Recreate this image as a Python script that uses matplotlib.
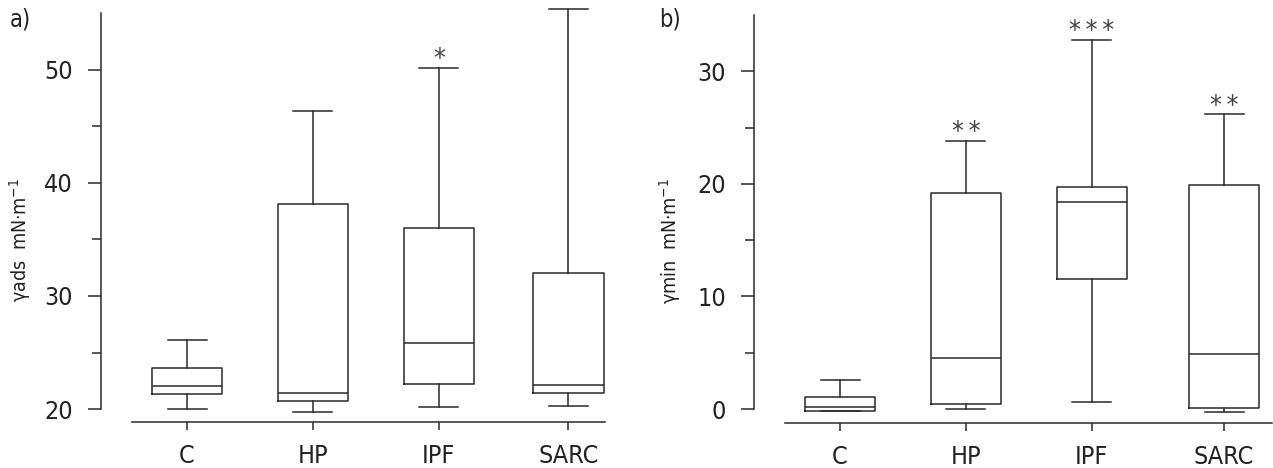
import matplotlib.pyplot as plt
import numpy as np

plt.rcParams['font.family'] = ['DejaVu Sans']
plt.rcParams['font.stretch'] = 'condensed'
plt.rcParams['mathtext.fontset'] = 'custom'
plt.rcParams['mathtext.rm'] = 'DejaVu Sans:stretch=condensed'

groups = ['C', 'HP', 'IPF', 'SARC']

# panel a) gamma ads
ads_whislo = [20.0, 19.7, 20.2, 20.3]
ads_q1 = [21.3, 20.7, 22.2, 21.4]
ads_med = [22.0, 21.4, 25.8, 22.1]
ads_q3 = [23.65, 38.1, 36.0, 32.0]
ads_whishi = [26.1, 46.4, 50.2, 55.4]
ads_stars = ['', '', '*', '']

# panel b) gamma min
min_whislo = [-0.15, -0.03, 0.6, -0.3]
min_q1 = [-0.15, 0.44, 11.56, 0.09]
min_med = [0.15, 4.5, 18.4, 4.9]
min_q3 = [1.04, 19.17, 19.7, 19.93]
min_whishi = [2.6, 23.85, 32.8, 26.2]
min_stars = ['', '**', '***', '**']

W, H = 1273, 468
lc = '#2a2a2a'


def panel(ax, pos, lo, q1, med, q3, hi, stars, ylim, bounds, ticks, minors, ylabel, tag, xlim):
    stats = []
    for i in range(len(groups)):
        stats.append(dict(label=groups[i], whislo=lo[i], q1=q1[i], med=med[i], q3=q3[i], whishi=hi[i], fliers=[]))
    lp = dict(color=lc, linewidth=1.1)
    ax.bxp(stats, positions=pos, widths=0.56, capwidths=0.31, showfliers=False,
           boxprops=lp, whiskerprops=lp, capprops=lp, medianprops=lp)
    for i in range(len(groups)):
        if stars[i]:
            ax.annotate('\u2009'.join(stars[i]), (pos[i], hi[i]), xytext=(0, -4), textcoords='offset points',
                        ha='center', va='bottom', fontsize=19, color='#444444')
    ax.set_xlim(xlim)
    ax.set_ylim(ylim)
    ax.spines[['top', 'right']].set_visible(False)
    ax.spines['left'].set_position(('outward', 22))
    ax.spines['left'].set_bounds(bounds[0], bounds[1])
    for s in ['left', 'bottom']:
        ax.spines[s].set_color(lc)
        ax.spines[s].set_linewidth(1.1)
    ax.set_yticks(ticks)
    ax.set_yticks(minors, minor=True)
    ax.tick_params(axis='y', which='major', length=9.5, width=1.1, color=lc, labelsize=18, pad=11, labelcolor='#222222')
    ax.tick_params(axis='y', which='minor', length=6.5, width=1.1, color=lc)
    ax.tick_params(axis='x', length=5.5, width=1.1, color=lc, labelsize=18, pad=10, labelcolor='#222222')
    ax.set_xticks(pos)
    ax.set_xticklabels(groups)
    ax.set_ylabel(ylabel, fontsize=14, color='#222222')
    ax.yaxis.set_label_coords(-0.209, 0.436)
    ax.text(-0.258, 0.995, tag, transform=ax.transAxes, fontsize=17, va='top', color='#222222')


fig = plt.figure(figsize=(W / 100, H / 100), dpi=100)
ax1 = fig.add_axes([132 / W, 46 / H, (605 - 132) / W, 417 / H])
ax2 = fig.add_axes([785 / W, 45 / H, (1272 - 785) / W, 418 / H])

panel(ax1, [1, 2, 3, 4.03], ads_whislo, ads_q1, ads_med, ads_q3, ads_whishi, ads_stars,
      (18.85, 55.75), (20, 55), [20, 30, 40, 50], [25, 35, 45],
      r'γads  mN·m$^{\mathregular{-1}}$', 'a)', (0.563, 4.32))
panel(ax2, [1, 2, 3, 4.05], min_whislo, min_q1, min_med, min_q3, min_whishi, min_stars,
      (-1.24, 35.9), (0, 35), [0, 10, 20, 30], [5, 15, 25],
      r'γmin  mN·m$^{\mathregular{-1}}$', 'b)', (0.563, 4.43))

fig.savefig('out.png', dpi=100)
